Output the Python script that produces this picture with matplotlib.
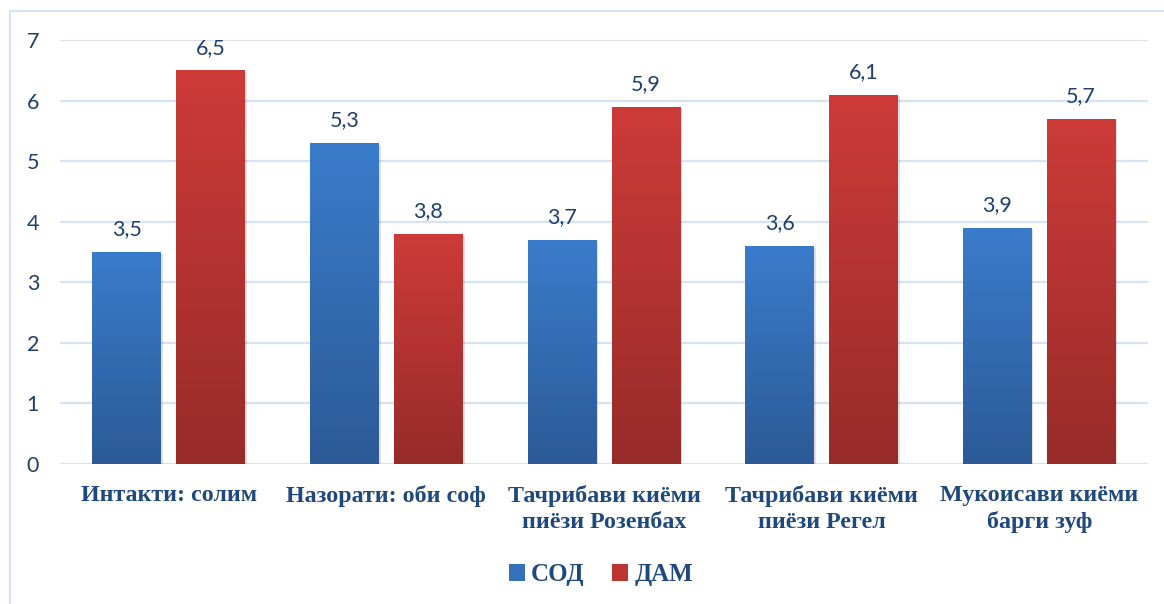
import matplotlib
matplotlib.use("Agg")
import matplotlib.pyplot as plt
import numpy as np
from matplotlib.patches import Rectangle
from matplotlib.colors import LinearSegmentedColormap

categories = ["Интакти: солим", "Назорати: оби соф", "Тачрибави киёми\nпиёзи Розенбах",
              "Тачрибави киёми\nпиёзи Регел", "Мукоисави киёми\nбарги зуф"]
sod = [3.5, 5.3, 3.7, 3.6, 3.9]
dam = [6.5, 3.8, 5.9, 6.1, 5.7]
series_names = ["СОД", "ДАМ"]
yticks = [0, 1, 2, 3, 4, 5, 6, 7]

W, H = 1164, 604
fig = plt.figure(figsize=(W / 100, H / 100), dpi=100)
fig.patch.set_facecolor("white")

# chart border
fig.patches.append(Rectangle((10 / W, -0.01), 1.2, 1 - 11 / H + 0.01, transform=fig.transFigure,
                             fill=False, edgecolor="#D5E2F1", linewidth=1.5))

ax = fig.add_axes([60 / W, 1 - 464 / H, (1148 - 60) / W, (464 - 40) / H])
ax.set_xlim(-0.5, len(categories) - 0.5)
ax.set_ylim(0, 7)
for s in ax.spines.values():
    s.set_visible(False)
ax.set_yticks(yticks)
ax.yaxis.grid(True, color="#D6E3F3", linewidth=1.6)
ax.set_axisbelow(True)
ax.tick_params(axis="y", length=0, pad=15, labelsize=15.5, labelcolor="#1F3F6E")
for lab in ax.get_yticklabels():
    lab.set_fontfamily("Lato")
ax.set_xticks(range(len(categories)))
ax.set_xticklabels(categories, fontfamily="Liberation Serif", fontweight="bold",
                   fontsize=17.3, color="#1F497D", linespacing=1.3)
ax.tick_params(axis="x", length=0, pad=15)

blue_cmap = LinearSegmentedColormap.from_list("b", ["#2C5A97", "#3A7CCB"])
red_cmap = LinearSegmentedColormap.from_list("r", ["#972B2A", "#CD3B38"])

bw = 0.317
gap = 0.069
grad = np.linspace(0, 1, 256).reshape(-1, 1)
for i in range(len(categories)):
    for val, off, cmap in [(sod[i], -(bw + gap) / 2, blue_cmap), (dam[i], (bw + gap) / 2, red_cmap)]:
        x0 = i + off - bw / 2
        # shadow
        sh = Rectangle((x0 + 0.008, -0.03), bw, val, facecolor="#000000", alpha=0.12,
                       edgecolor="none", zorder=2)
        ax.add_patch(sh)
        rect = Rectangle((x0, 0), bw, val, facecolor="none", edgecolor="none", zorder=3)
        ax.add_patch(rect)
        im = ax.imshow(grad, extent=(x0, x0 + bw, 0, val), origin="lower", aspect="auto",
                       cmap=cmap, zorder=3)
        im.set_clip_path(rect)
        ax.annotate(f"{val:.1f}".replace(".", ","), (i + off, val), xytext=(0, 12),
                    textcoords="offset points", ha="center", va="baseline",
                    fontsize=15.5, color="#1F3F6E", fontfamily="Lato")

ax.set_xlim(-0.5, len(categories) - 0.5)
ax.set_ylim(0, 7)

# legend
handles = [Rectangle((0, 0), 1, 1, facecolor="#3570BA"), Rectangle((0, 0), 1, 1, facecolor="#BD3533")]
leg = fig.legend(handles, series_names, loc="center", bbox_to_anchor=(601 / W, 1 - 575 / H),
                 ncol=2, frameon=False, handlelength=0.65, handleheight=0.65, handletextpad=0.25,
                 columnspacing=1.1, prop={"family": "Liberation Serif", "weight": "bold", "size": 18})
for t in leg.get_texts():
    t.set_color("#1F497D")

fig.savefig("out.png", dpi=100)
